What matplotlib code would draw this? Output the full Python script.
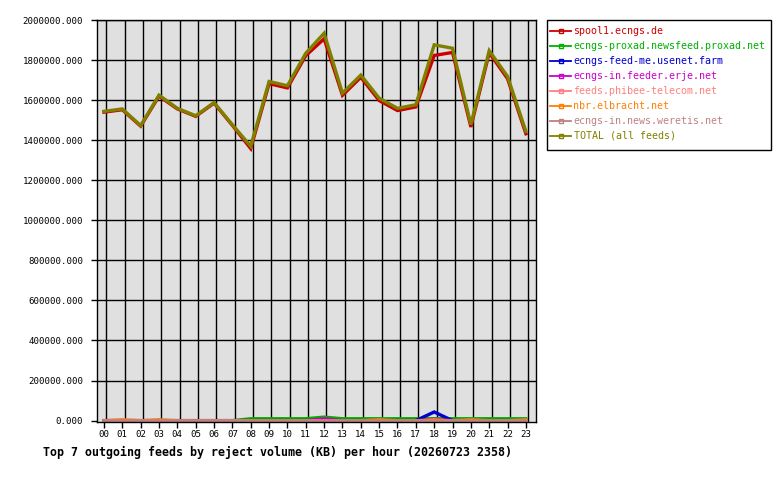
import matplotlib
matplotlib.use("Agg")
import matplotlib.pyplot as plt
from matplotlib.lines import Line2D
from matplotlib.patches import Rectangle
import numpy as np

hours = ["00","01","02","03","04","05","06","07","08","09","10","11",
         "12","13","14","15","16","17","18","19","20","21","22","23"]

spool1 = [1540000,1552000,1470000,1620000,1556000,1519000,1585000,1474000,
          1358000,1682000,1661000,1822000,1906000,1624000,1714000,1598000,
          1548000,1566000,1823000,1838000,1466000,1836000,1707000,1432000]
proxad = [0,0,0,0,0,0,0,0,
          10000,10000,10000,10000,18000,10000,10000,10000,
          10000,10000,10000,10000,10000,10000,10000,10000]
usenet_farm = [0,0,0,0,0,0,0,0,0,0,0,0,0,0,0,0,0,0,43000,0,0,0,0,0]
erje = [0,0,0,0,0,0,0,0,0,0,0,0,10000,0,0,0,0,0,8000,0,0,0,0,0]
phibee = [0]*24
elbracht = [0,5000,0,5000,0,0,0,0,0,0,0,0,0,0,0,5000,0,0,5000,0,5000,0,0,5000]
weretis = [0]*24
total = [1544000,1556000,1473000,1625000,1559000,1522000,1588000,1477000,
         1370000,1693000,1672000,1834000,1934000,1635000,1725000,1610000,
         1559000,1577000,1876000,1859000,1478000,1847000,1718000,1444000]

names = ["spool1.ecngs.de", "ecngs-proxad.newsfeed.proxad.net",
         "ecngs-feed-me.usenet.farm", "ecngs-in.feeder.erje.net",
         "feeds.phibee-telecom.net", "nbr.elbracht.net",
         "ecngs-in.news.weretis.net", "TOTAL (all feeds)"]
colors = ["#cc0000", "#00b000", "#0000cc", "#cc00cc",
          "#ff8080", "#ff8000", "#c08080", "#808000"]
series = [spool1, proxad, usenet_farm, erje, phibee, elbracht, weretis, total]
zorders = [7, 3, 3.2, 3.1, 3.5, 3.5, 4, 8]
widths = [2.4, 2.2, 2.4, 2.2, 2.2, 2.2, 2.6, 2.4]

mono = "DejaVu Sans Mono"
plt.rcParams['font.family'] = [mono]

fig = plt.figure(figsize=(7.8, 4.8), dpi=100)
fig.patch.set_facecolor("white")
ax = fig.add_axes([97/780, 1-422/480, (536-97)/780, 402/480])
ax.set_facecolor("#e0e0e0")

x = np.arange(len(hours))
for vals, c, z, w in zip(series, colors, zorders, widths):
    ax.plot(x, vals, color=c, lw=w, zorder=z, solid_joinstyle='miter')

ax.set_xlim(-0.38, 23.55)
ax.set_ylim(-7000, 2000000)
yt = np.arange(0, 2000001, 200000)
ax.set_yticks(yt)
ax.set_yticklabels(["%.3f" % v for v in yt])
ax.set_xticks(x)
ax.set_xticklabels(hours)
for v in yt[1:]:
    ax.axhline(v, color="black", lw=1, zorder=1)
for xi in x:
    ax.axvline(xi + 0.13, color="black", lw=1, zorder=1)
ax.tick_params(axis='both', labelsize=6.6, length=4, width=1, color="black",
               direction='out')
ax.tick_params(axis='y', pad=6)
ax.tick_params(axis='x', pad=2)
for s in ax.spines.values():
    s.set_color("black")
    s.set_linewidth(1)
    s.set_zorder(10)

handles = [Line2D([], [], color=c, lw=1.3, marker='s', ms=2.5,
                  mfc='none', mec=c, mew=1) for c in colors]
fig.patches.append(Rectangle((546.7/780, 1-150/480), 224/780, 130/480,
                             transform=fig.transFigure, facecolor="white",
                             edgecolor="black", lw=1, zorder=0))
leg = fig.legend(handles, names, loc='upper left',
                 bbox_to_anchor=(550/780, 1-26/480),
                 prop={'family': mono, 'size': 7.2},
                 labelcolor=colors, frameon=False,
                 handlelength=2.1, handletextpad=0.25, labelspacing=0.5,
                 borderpad=0, borderaxespad=0)

fig.text(43/780, 1-452/480,
         "Top 7 outgoing feeds by reject volume (KB) per hour (20260723 2358)",
         family=mono, fontweight='bold', fontsize=8.4, va='center', ha='left')

fig.savefig("out.png", dpi=100)
